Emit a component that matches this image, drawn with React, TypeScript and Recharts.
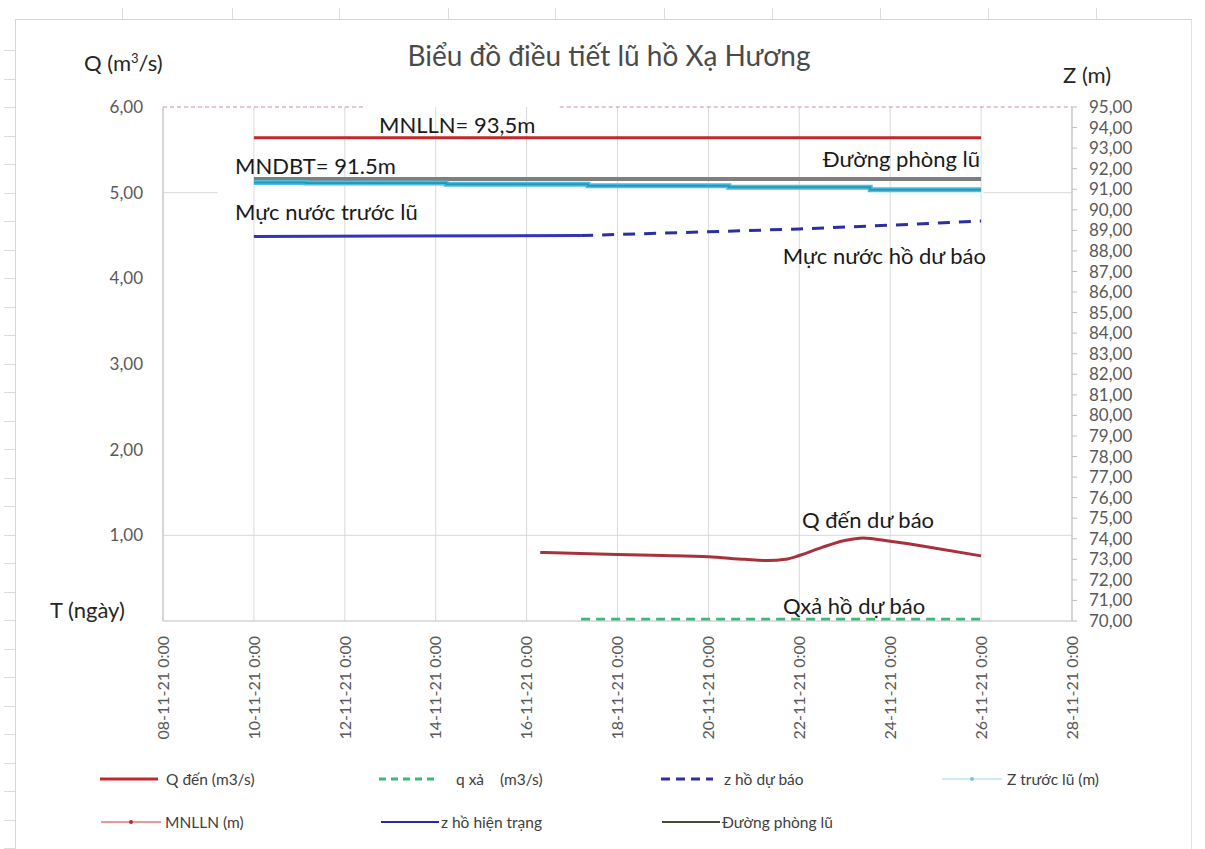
import React from 'react';
import { ComposedChart, Line, XAxis, YAxis, CartesianGrid, ReferenceLine } from 'recharts';

// ---- data (x = days since 08-11-21 0:00) ----
const xTicks = [0, 2, 4, 6, 8, 10, 12, 14, 16, 18, 20];
const qTicks = [0, 1, 2, 3, 4, 5, 6];
const zTicks = [70, 71, 72, 73, 74, 75, 76, 77, 78, 79, 80, 81, 82, 83, 84, 85, 86, 87, 88, 89, 90, 91, 92, 93, 94, 95];

const qDenDays = [8.3, 9, 10, 11, 12, 12.8, 13.3, 13.7, 14, 14.5, 15, 15.4, 16, 17, 18];
const qDenVals = [0.8, 0.79, 0.775, 0.765, 0.75, 0.72, 0.705, 0.72, 0.765, 0.86, 0.94, 0.97, 0.93, 0.85, 0.76];

const qXaDays = [9.2, 18];
const qXaVals = [0.02, 0.02];

const mnllnDays = [2, 18];
const mnllnVals = [93.5, 93.5];

const phongLuDays = [2, 18];
const phongLuVals = [91.5, 91.5];

const zTruocDays = [2, 3.15, 6.23, 9.35, 12.45, 15.56, 18];
const zTruocVals = [91.33, 91.3, 91.24, 91.17, 91.1, 90.97, 90.97];

const zHienTrangDays = [2, 5, 9.2];
const zHienTrangVals = [88.7, 88.72, 88.75];

const zDuBaoDays = [9.2, 10, 12, 14, 16, 18];
const zDuBaoVals = [88.75, 88.8, 88.93, 89.07, 89.25, 89.46];

const topDays = [0, 4.4, 4.5, 8.73, 20];
const topVals: (number | null)[] = [95, 95, null, 95, 95];

const zip = (d: number[], v: (number | null)[]) => d.map((x, i) => ({ d: x, v: v[i] }));

const FONT = 'Lato, "Open Sans", sans-serif';

const fmtNum = (v: number) => v.toFixed(2).replace('.', ',');
const fmtDate = (d: number) => `${String(8 + d).padStart(2, '0')}-11-21 0:00`;

const XTick = (props: any) => {
  const { x, y, payload } = props;
  return (
    <text
      x={x}
      y={y}
      transform={`rotate(-90, ${x}, ${y})`}
      textAnchor="end"
      dy="0.36em"
      fill="#595959"
      fontSize={16}
      fontFamily={FONT}
    >
      {fmtDate(payload.value)}
    </text>
  );
};

const legendRow1 = [
  { name: 'Q đến (m3/s)', color: '#c0282d', dash: '', width: 3, marker: false },
  { name: 'q xả    (m3/s)', color: '#3cb878', dash: '7 5', width: 3, marker: false },
  { name: 'z hồ dự báo', color: '#2e2ea6', dash: '9 6', width: 3, marker: false },
  { name: 'Z trước lũ (m)', color: '#9fd6ee', dash: '', width: 1, marker: true },
];
const legendRow2 = [
  { name: 'MNLLN (m)', color: '#e89a9a', dash: '', width: 2, marker: true },
  { name: 'z hồ hiện trạng', color: '#2a2aa0', dash: '', width: 2, marker: false },
  { name: 'Đường phòng lũ', color: '#4a4a30', dash: '', width: 2, marker: false },
];

const LegendItem = ({ item, x, y, lineW, gap }: any) => (
  <div style={{ position: 'absolute', left: x, top: y - 10, height: 20, display: 'flex', alignItems: 'center' }}>
    <svg width={lineW} height={20}>
      <line x1={0} y1={10} x2={lineW} y2={10} stroke={item.color} strokeWidth={item.width} strokeDasharray={item.dash} />
      {item.marker && <circle cx={lineW / 2} cy={10} r={2} fill={item.color === '#e89a9a' ? '#c0282d' : '#7fbfe0'} />}
    </svg>
    <span style={{ marginLeft: gap, fontSize: 15.5, color: '#404040', fontFamily: FONT, whiteSpace: 'pre' }}>{item.name}</span>
  </div>
);

const Label = ({ children, left, right, cx, y, size, color }: any) => {
  const style: any = {
    position: 'absolute',
    top: y,
    transform: cx !== undefined ? 'translate(-50%, -50%)' : 'translateY(-50%)',
    fontSize: size,
    lineHeight: 1,
    color: color || '#1a1a1a',
    fontFamily: FONT,
    whiteSpace: 'nowrap',
  };
  if (cx !== undefined) style.left = cx;
  if (left !== undefined) style.left = left;
  if (right !== undefined) style.right = 1205 - right;
  return <div style={style}>{children}</div>;
};

export default function App() {
  const topTicks = [122, 232, 339, 448, 555, 664, 772, 880, 988, 1096];
  const leftTicks = Array.from({ length: 29 }, (_, i) => 50 + i * 28.5);
  return (
    <div style={{ position: 'absolute', left: 0, top: 0, width: 1205, height: 849, background: '#fff', overflow: 'hidden' }}>
      {/* spreadsheet frame */}
      <div style={{ position: 'absolute', left: 15, top: 19, width: 1175, height: 840, borderLeft: '1px solid #d6d6d6', borderTop: '1px solid #d6d6d6', borderRight: '1px solid #e2e2e2' }} />
      {topTicks.map((x) => (
        <div key={x} style={{ position: 'absolute', left: x, top: 8, width: 1, height: 11, background: '#dcdcdc' }} />
      ))}
      {leftTicks.map((y) => (
        <div key={y} style={{ position: 'absolute', left: 4, top: y, width: 11, height: 1, background: '#dcdcdc' }} />
      ))}

      <div style={{ position: 'absolute', left: 0, top: 0 }}>
        <ComposedChart width={1205} height={849} margin={{ top: 107, right: 60, bottom: 98, left: 103 }}>
          <CartesianGrid yAxisId="q" horizontal={false} vertical={true} stroke="#d9d9d9" />
          <XAxis
            dataKey="d"
            type="number"
            domain={[0, 20]}
            ticks={xTicks}
            interval={0}
            height={130}
            tickSize={0}
            tickMargin={15}
            tick={<XTick />}
            axisLine={{ stroke: '#bfbfbf' }}
            tickLine={false}
            allowDataOverflow
          />
          <YAxis
            yAxisId="q"
            orientation="left"
            domain={[0, 6]}
            ticks={qTicks}
            interval={0}
            width={60}
            tickSize={0}
            tickMargin={20}
            tickFormatter={(v: number) => (v === 0 ? '' : fmtNum(v))}
            tick={{ fill: '#595959', fontSize: 17, fontFamily: FONT }}
            axisLine={{ stroke: '#bfbfbf' }}
            tickLine={false}
          />
          <YAxis
            yAxisId="z"
            orientation="right"
            domain={[70, 95]}
            ticks={zTicks}
            interval={0}
            width={73}
            tickSize={5}
            tickMargin={12}
            tickFormatter={(v: number) => fmtNum(v)}
            tick={{ fill: '#595959', fontSize: 17, fontFamily: FONT }}
            axisLine={{ stroke: '#bfbfbf' }}
            tickLine={{ stroke: '#bfbfbf' }}
          />
          <ReferenceLine yAxisId="q" y={1} stroke="#d9d9d9" />
          <ReferenceLine yAxisId="q" segment={[{ x: 0, y: 5 }, { x: 1.2, y: 5 }]} stroke="#d9d9d9" />
          <ReferenceLine yAxisId="q" segment={[{ x: 18.05, y: 5 }, { x: 20, y: 5 }]} stroke="#d9d9d9" />

          <Line yAxisId="z" data={zip(topDays, topVals)} dataKey="v" stroke="#c68ab8" strokeWidth={1} strokeDasharray="4 3" dot={false} isAnimationActive={false} connectNulls={false} />
          <Line yAxisId="z" data={zip(mnllnDays, mnllnVals)} dataKey="v" stroke="#c0282d" strokeWidth={3} dot={false} isAnimationActive={false} />
          <Line yAxisId="z" data={zip(phongLuDays, phongLuVals)} dataKey="v" stroke="#7f7f7f" strokeWidth={4} dot={false} isAnimationActive={false} />
          <Line yAxisId="z" type="stepAfter" data={zip(zTruocDays, zTruocVals)} dataKey="v" stroke="#45c0e6" strokeWidth={5} dot={false} isAnimationActive={false} />
          <Line yAxisId="z" type="stepAfter" data={zip(zTruocDays, zTruocVals)} dataKey="v" stroke="#2f95b4" strokeWidth={2} dot={false} isAnimationActive={false} />
          <Line yAxisId="z" data={zip(zHienTrangDays, zHienTrangVals)} dataKey="v" stroke="#3434b8" strokeWidth={3} dot={false} isAnimationActive={false} />
          <Line yAxisId="z" data={zip(zDuBaoDays, zDuBaoVals)} dataKey="v" stroke="#2e2ea0" strokeWidth={3} strokeDasharray="12 9" dot={false} isAnimationActive={false} />
          <Line yAxisId="q" type="monotone" data={zip(qDenDays, qDenVals)} dataKey="v" stroke="#a8323c" strokeWidth={3} dot={false} isAnimationActive={false} />
          <Line yAxisId="q" data={zip(qXaDays, qXaVals)} dataKey="v" stroke="#3cb878" strokeWidth={3} strokeDasharray="9 6" dot={false} isAnimationActive={false} />
        </ComposedChart>
      </div>

      {/* titles & annotations */}
      <Label cx={609} y={55} size={28} color="#4a4a4a">Biểu đồ điều tiết lũ hồ Xạ Hương</Label>
      <Label left={84} y={63} size={22} color="#262626">Q (m<sup style={{ fontSize: 13 }}>3</sup>/s)</Label>
      <Label left={1063} y={75} size={22} color="#262626">Z (m)</Label>
      <Label left={50} y={610} size={22} color="#262626">T (ngày)</Label>
      <Label left={379} y={125} size={22}>MNLLN= 93,5m</Label>
      <Label left={235} y={166} size={22}>MNDBT= 91.5m</Label>
      <Label left={235} y={212} size={22}>Mực nước trước lũ</Label>
      <Label right={980} y={159} size={22}>Đường phòng lũ</Label>
      <Label right={986} y={256} size={22}>Mực nước hồ dư báo</Label>
      <Label left={802} y={520} size={22}>Q đến dư báo</Label>
      <Label left={783} y={606} size={22}>Qxả hồ dự báo</Label>

      {/* legend */}
      <LegendItem item={legendRow1[0]} x={100} y={779} lineW={58} gap={8} />
      <LegendItem item={legendRow1[1]} x={379} y={779} lineW={60} gap={17} />
      <LegendItem item={legendRow1[2]} x={661} y={779} lineW={52} gap={11} />
      <LegendItem item={legendRow1[3]} x={942} y={779} lineW={60} gap={5} />
      <LegendItem item={legendRow2[0]} x={101} y={822} lineW={60} gap={4} />
      <LegendItem item={legendRow2[1]} x={381} y={822} lineW={58} gap={2} />
      <LegendItem item={legendRow2[2]} x={662} y={822} lineW={58} gap={2} />
    </div>
  );
}
